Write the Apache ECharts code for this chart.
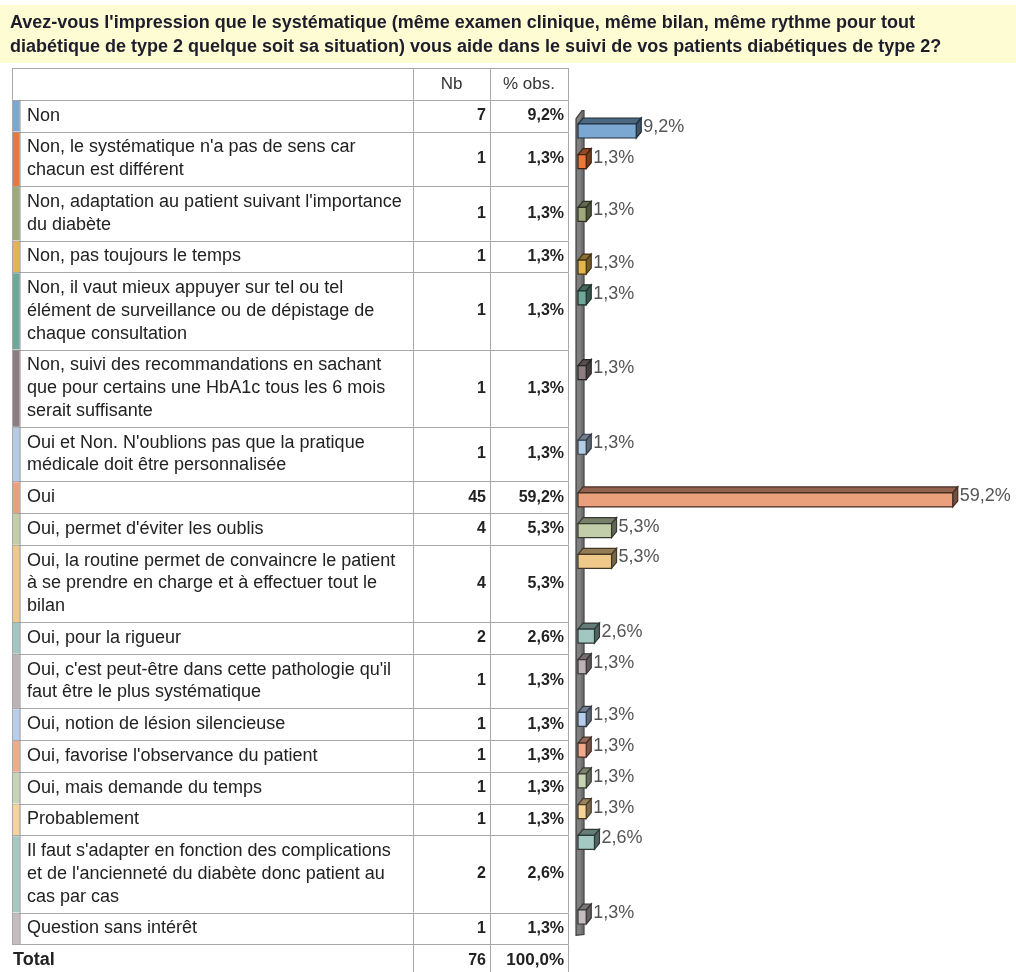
<!DOCTYPE html>
<html><head><meta charset="utf-8">
<script src="https://cdn.jsdelivr.net/npm/echarts@6/dist/echarts.min.js"></script>
<style>html,body{margin:0;padding:0;background:#fff}#c{width:1016px;height:972px}</style>
</head><body><div id="c"></div>
<script>
const titleLines = [
  "Avez-vous l'impression que le systématique (même examen clinique, même bilan, même rythme pour tout",
  "diabétique de type 2 quelque soit sa situation) vous aide dans le suivi de vos patients diabétiques de type 2?"
];
const headers = ['Nb', '% obs.'];
const categories = [
  "Non",
  "Non, le systématique n'a pas de sens car\nchacun est différent",
  "Non, adaptation au patient suivant l'importance\ndu diabète",
  "Non, pas toujours le temps",
  "Non, il vaut mieux appuyer sur tel ou tel\nélément de surveillance ou de dépistage de\nchaque consultation",
  "Non, suivi des recommandations en sachant\nque pour certains une HbA1c tous les 6 mois\nserait suffisante",
  "Oui et Non. N'oublions pas que la pratique\nmédicale doit être personnalisée",
  "Oui",
  "Oui, permet d'éviter les oublis",
  "Oui, la routine permet de convaincre le patient\nà se prendre en charge et à effectuer tout le\nbilan",
  "Oui, pour la rigueur",
  "Oui, c'est peut-être dans cette pathologie qu'il\nfaut être le plus systématique",
  "Oui, notion de lésion silencieuse",
  "Oui, favorise l'observance du patient",
  "Oui, mais demande du temps",
  "Probablement",
  "Il faut s'adapter en fonction des complications\net de l'ancienneté du diabète donc patient au\ncas par cas",
  "Question sans intérêt"
];
const counts = [7, 1, 1, 1, 1, 1, 1, 45, 4, 4, 2, 1, 1, 1, 1, 1, 2, 1];
const percents = [9.2, 1.3, 1.3, 1.3, 1.3, 1.3, 1.3, 59.2, 5.3, 5.3, 2.6, 1.3, 1.3, 1.3, 1.3, 1.3, 2.6, 1.3];
const totalLabel = 'Total';
const totalCount = 76;
const totalPercent = 100.0;
const colors = ['#7BA7D3', '#E8793A', '#9FAA7C', '#E3B54F', '#6FA89A', '#8B7D80', '#B4CCE6', '#EBA07C', '#C2CDA9',
  '#EFC98A', '#A2C6C1', '#BDB2B5', '#B7CDEB', '#F0AA8C', '#C7D4B5', '#F6D49A', '#A3C9C2', '#C5BCBF'];

// ---------- layout ----------
const FONT = '"Liberation Sans", Arial, sans-serif';
const LINE_H = 22.75, PAD = 9;
const fmt = v => v.toFixed(1).replace('.', ',') + '%';
const rows = [{ kind: 'header', lines: 1 }]
  .concat(categories.map((c, i) => ({ kind: 'cat', i, lines: c.split('\n').length })))
  .concat([{ kind: 'total', lines: 1 }]);
const heights = rows.map(r => r.lines * LINE_H + PAD);
const tops = [];
let acc = 0;
heights.forEach(h => { tops.push(acc); acc += h; });
const TABLE_TOP = 68, VIEW_H = 972 - 68; // visible part of the table (the total row runs off the page)
const TW = 556, C1 = 401, C2 = 478;
// bar positions follow the category rows' top offsets (relative to first category row)
const barPos = categories.map((c, i) => tops[i + 1] - tops[1]);
const lastTop = barPos[barPos.length - 1];
const BAR_TOP = 131, BAR_SPAN = 786;
const k = BAR_SPAN / lastTop;
const Y_MIN = -22, Y_EXTRA = 19;

function shade(hex, f) {
  const n = parseInt(hex.slice(1), 16);
  const r = Math.round(((n >> 16) & 255) * f), g = Math.round(((n >> 8) & 255) * f), b = Math.round((n & 255) * f);
  return 'rgb(' + r + ',' + g + ',' + b + ')';
}

const chart = echarts.init(document.getElementById('c'), null, { renderer: 'canvas' });

function tableItem(params, api) {
  const idx = api.value(0);
  const row = rows[idx];
  const t = tops[idx], h = heights[idx];
  const pTL = api.coord([0, t]);
  const pBR = api.coord([TW, t + h]);
  const x0 = pTL[0], y0 = pTL[1], x3 = pBR[0], y1 = pBR[1];
  const xc1 = api.coord([C1, t])[0], xc2 = api.coord([C2, t])[0];
  const yc = (y0 + y1) / 2;
  const line = { stroke: '#a8a8a8', lineWidth: 1 };
  const children = [];
  children.push({ type: 'line', shape: { x1: x0, y1: Math.round(y0) + 0.5, x2: x3, y2: Math.round(y0) + 0.5 }, style: line });
  if (row.kind !== 'total') {
    children.push({ type: 'line', shape: { x1: x0 + 0.5, y1: y0, x2: x0 + 0.5, y2: y1 }, style: line });
  }
  [xc1, xc2, x3].forEach(x => children.push({ type: 'line', shape: { x1: Math.round(x) + 0.5, y1: y0, x2: Math.round(x) + 0.5, y2: y1 }, style: line }));
  if (row.kind === 'header') {
    children.push({ type: 'text', style: { text: headers[0], x: (xc1 + xc2) / 2, y: yc, textAlign: 'center', textVerticalAlign: 'middle', font: '17px ' + FONT, fill: '#333' } });
    children.push({ type: 'text', style: { text: headers[1], x: (xc2 + x3) / 2, y: yc, textAlign: 'center', textVerticalAlign: 'middle', font: '17px ' + FONT, fill: '#333' } });
  } else if (row.kind === 'cat') {
    const i = row.i;
    children.push({ type: 'rect', shape: { x: x0 + 1, y: y0 + 1, width: 6.5, height: y1 - y0 - 1 }, style: { fill: colors[i] } });
    children.push({ type: 'line', shape: { x1: x0 + 8, y1: y0, x2: x0 + 8, y2: y1 }, style: { stroke: '#8a8a8a', lineWidth: 1 } });
    children.push({ type: 'text', style: { text: categories[i], x: x0 + 15, y: yc, textAlign: 'left', textVerticalAlign: 'middle', font: '18px ' + FONT, lineHeight: LINE_H, fill: '#222' } });
    children.push({ type: 'text', style: { text: String(counts[i]), x: xc2 - 4, y: yc, textAlign: 'right', textVerticalAlign: 'middle', font: 'bold 16px ' + FONT, fill: '#222' } });
    children.push({ type: 'text', style: { text: fmt(percents[i]), x: x3 - 4, y: yc, textAlign: 'right', textVerticalAlign: 'middle', font: 'bold 16px ' + FONT, fill: '#222' } });
  } else {
    children.push({ type: 'text', style: { text: totalLabel, x: x0 + 1, y: yc, textAlign: 'left', textVerticalAlign: 'middle', font: 'bold 18px ' + FONT, fill: '#222' } });
    children.push({ type: 'text', style: { text: String(totalCount), x: xc2 - 4, y: yc, textAlign: 'right', textVerticalAlign: 'middle', font: 'bold 16px ' + FONT, fill: '#222' } });
    children.push({ type: 'text', style: { text: fmt(totalPercent), x: x3 - 4, y: yc, textAlign: 'right', textVerticalAlign: 'middle', font: 'bold 17px ' + FONT, fill: '#222' } });
  }
  return { type: 'group', children };
}

const DX = 5, DY = 6, BH = 14;
function barItem(params, api) {
  const v = api.value(0), r = api.value(1), i = api.value(2);
  const p0 = api.coord([0, r]), p1 = api.coord([v, r]);
  const x0 = p0[0], x1 = p1[0], yc = p0[1];
  const yt = yc - BH / 2, yb = yc + BH / 2;
  const c = colors[i];
  const stroke = shade(c, 0.28);
  return {
    type: 'group', children: [
      { type: 'polygon', shape: { points: [[x0, yt], [x1, yt], [x1 + DX, yt - DY], [x0 + DX, yt - DY]] }, style: { fill: shade(c, 0.62), stroke, lineWidth: 1.2 } },
      { type: 'polygon', shape: { points: [[x1, yt], [x1 + DX, yt - DY], [x1 + DX, yb - DY], [x1, yb]] }, style: { fill: shade(c, 0.5), stroke, lineWidth: 1.2 } },
      { type: 'rect', shape: { x: x0, y: yt, width: x1 - x0, height: BH }, style: { fill: c, stroke, lineWidth: 1.2 } },
      { type: 'text', style: { text: fmt(v), x: x1 + DX + 2, y: yc - 4, textAlign: 'left', textVerticalAlign: 'middle', font: '18px ' + FONT, fill: '#555' } }
    ]
  };
}

function wallItem(params, api) {
  const cs = params.coordSys;
  const x = api.coord([0, 0])[0];
  const top = cs.y, bot = cs.y + cs.height;
  return {
    type: 'group', children: [
      { type: 'polygon', shape: { points: [[x - 2, top + 9], [x + 4, top + 1], [x + 6, top + 1], [x + 6, bot - 1], [x - 2, bot]] }, style: { fill: '#7f7f7f', stroke: '#3d3d3d', lineWidth: 1.2 } },
      { type: 'line', shape: { x1: x + 4, y1: top + 1, x2: x + 4, y2: bot - 2 }, style: { stroke: '#5e5e5e', lineWidth: 1 } }
    ]
  };
}

const option = {
  animation: false,
  backgroundColor: '#fff',
  graphic: [
    { type: 'rect', left: 0, top: 5, shape: { width: 1016, height: 58 }, style: { fill: '#FDFCD2' }, z: -1 },
    { type: 'text', left: 10, top: 11, style: { text: titleLines.join('\n'), font: 'bold 18px ' + FONT, lineHeight: 24, fill: '#1d1d2b' } }
  ],
  grid: [
    { left: 12, top: TABLE_TOP, width: TW, height: VIEW_H },
    { left: 578, top: BAR_TOP + Y_MIN * k, width: 60 * 6.33, height: (lastTop + Y_EXTRA - Y_MIN) * k }
  ],
  xAxis: [
    { gridIndex: 0, type: 'value', min: 0, max: TW, show: false },
    { gridIndex: 1, type: 'value', min: 0, max: 60, show: false }
  ],
  yAxis: [
    { gridIndex: 0, type: 'value', min: 0, max: VIEW_H, inverse: true, show: false },
    { gridIndex: 1, type: 'value', min: Y_MIN, max: lastTop + Y_EXTRA, inverse: true, show: false }
  ],
  series: [
    { type: 'custom', xAxisIndex: 0, yAxisIndex: 0, renderItem: tableItem, data: rows.map((r, i) => [i, 0]), clip: false, silent: true },
    { type: 'custom', xAxisIndex: 1, yAxisIndex: 1, renderItem: wallItem, data: [[0, 0]], clip: false, silent: true, z: 1 },
    { type: 'custom', xAxisIndex: 1, yAxisIndex: 1, renderItem: barItem, data: percents.map((p, i) => [p, barPos[i], i]), clip: false, silent: true, z: 2 }
  ]
};
chart.setOption(option);
</script></body></html>
